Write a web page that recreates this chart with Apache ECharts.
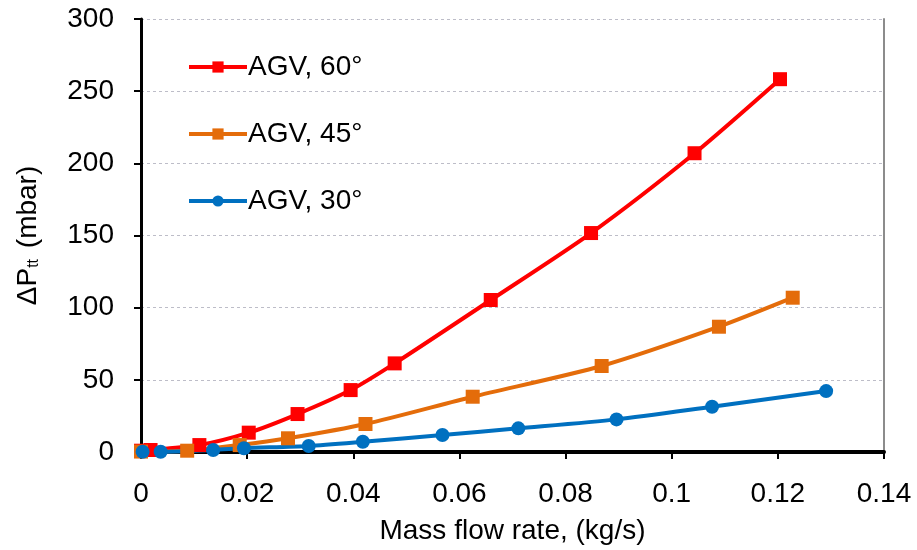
<!DOCTYPE html>
<html><head><meta charset="utf-8">
<script src="https://cdn.jsdelivr.net/npm/echarts@6/dist/echarts.min.js"></script>
<style>html,body{margin:0;padding:0;background:#fff}#c{width:917px;height:550px}</style>
</head><body><div id="c"></div>
<script>
const seriesNames = ['AGV, 60°', 'AGV, 45°', 'AGV, 30°'];
const agv60 = [[0.0, 0.9], [0.0018, 1.4], [0.011, 4.8], [0.0203, 13.4], [0.0295, 26.3], [0.0395, 42.9], [0.0478, 61.4], [0.0659, 105.3], [0.0848, 151.7], [0.1043, 207.0], [0.1204, 258.3]];
const agv45 = [[0.0, 0.3], [0.0087, 0.9], [0.0186, 4.8], [0.0277, 9.5], [0.0423, 19.4], [0.0625, 38.3], [0.0868, 59.6], [0.1089, 86.8], [0.1228, 106.9]];
const agv30 = [[0.0003, 0.2], [0.0037, 0.2], [0.0136, 1.4], [0.0194, 2.6], [0.0316, 4.2], [0.0418, 7.1], [0.0568, 11.8], [0.0711, 16.4], [0.0896, 22.6], [0.1076, 31.4], [0.1291, 42.2]];
const xTicks = ['0', '0.02', '0.04', '0.06', '0.08', '0.1', '0.12', '0.14'];

const chart = echarts.init(document.getElementById('c'));
const font = 'Liberation Sans, Arial, sans-serif';
function mk(name, data, color, symbol, size) {
  return {
    name: name, type: 'line', data: data, smooth: 0.25,
    symbol: symbol, symbolSize: size,
    lineStyle: { color: color, width: 4 },
    itemStyle: { color: color },
    emphasis: { disabled: true }
  };
}
chart.setOption({
  animation: false,
  textStyle: { fontFamily: font },
  grid: { left: 141, right: 33, top: 19, bottom: 98, show: false },
  legend: {
    orient: 'vertical', left: 182, top: 47,
    itemWidth: 58, itemHeight: 14, itemGap: 37,
    data: seriesNames,
    lineStyle: { width: 4 },
    textStyle: { fontFamily: font, fontSize: 28, lineHeight: 30, color: '#000', padding: [0, 0, 0, -4] }
  },
  xAxis: {
    type: 'value', min: 0, max: 0.14, interval: 0.02,
    name: 'Mass flow rate, (kg/s)', nameLocation: 'middle', nameGap: 65,
    nameTextStyle: { fontFamily: font, fontSize: 28, color: '#000' },
    axisLine: { onZero: false, lineStyle: { color: '#000', width: 4 } },
    axisTick: { show: true, length: 7, lineStyle: { color: '#000', width: 2 } },
    axisLabel: { fontFamily: font, fontSize: 28, color: '#000', margin: 28,
      formatter: function (v) { return xTicks[Math.round(v / 0.02)]; } },
    splitLine: { show: false }
  },
  yAxis: [{
    type: 'value', min: 0, max: 300, interval: 50,
    name: '{a|ΔP}{s|tt}{a| (mbar)}', nameLocation: 'middle', nameGap: 99, nameRotate: 90,
    nameTextStyle: { rich: {
      a: { fontFamily: font, fontSize: 28, color: '#000' },
      s: { fontFamily: font, fontSize: 16, color: '#000', verticalAlign: 'bottom', padding: [10, 3, 0, 0] } } },
    axisLine: { show: true, lineStyle: { color: '#000', width: 3 } },
    axisTick: { show: true, length: 7, lineStyle: { color: '#000', width: 2 } },
    axisLabel: { fontFamily: font, fontSize: 28, color: '#000', margin: 27 },
    splitLine: { show: true, lineStyle: { color: '#bdbdc8', type: [3, 3], width: 1 } }
  }, {
    type: 'value', min: 0, max: 300, interval: 50, position: 'right',
    axisLine: { show: true, lineStyle: { color: '#8c8c8c', width: 2 } },
    axisTick: { show: false }, axisLabel: { show: false }, splitLine: { show: false }
  }],
  series: [
    mk(seriesNames[0], agv60, '#FF0000', 'rect', 14),
    mk(seriesNames[1], agv45, '#E46C0A', 'rect', 14),
    mk(seriesNames[2], agv30, '#0070C0', 'circle', 14)
  ]
});
</script></body></html>
